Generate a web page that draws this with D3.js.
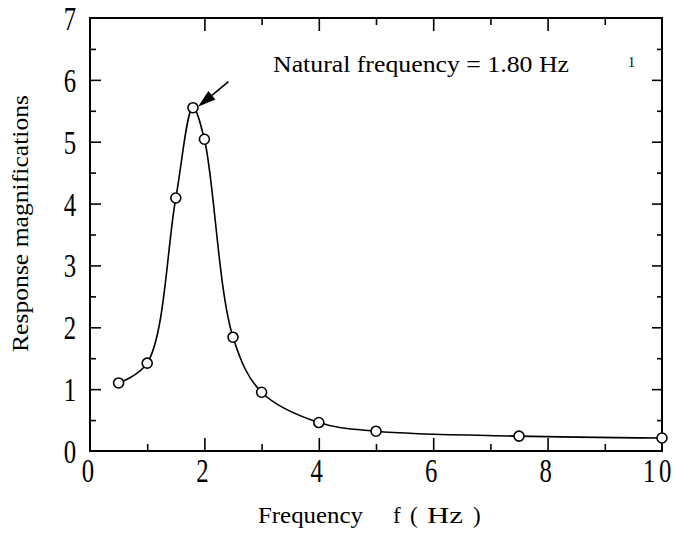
<!DOCTYPE html>
<html>
<head>
<meta charset="utf-8">
<script src="https://cdn.jsdelivr.net/npm/d3@7"></script>
<style>
  body { margin: 0; background: #fff; }
  svg { display: block; }
  text { font-family: "Liberation Serif", "Times New Roman", serif; fill: #000; }
</style>
</head>
<body>
<div id="chart"></div>
<script>
// DATA
const frequency = [0.5, 1.0, 1.5, 1.8, 2.0, 2.5, 3.0, 4.0, 5.0, 7.5, 10.0];
const magnification = [1.1, 1.42, 4.09, 5.55, 5.04, 1.84, 0.95, 0.46, 0.32, 0.24, 0.21];
const xTickLabels = [0, 2, 4, 6, 8, 10];
const yTickLabels = [0, 1, 2, 3, 4, 5, 6, 7];
const naturalFreq = 1.8;
const peakValue = 5.55;
const annotation = "Natural frequency = 1.80 Hz";

const width = 676, height = 533;
const margin = { top: 18, right: 14, bottom: 82, left: 90 };

const svg = d3.select("#chart").append("svg")
  .attr("width", width)
  .attr("height", height);

// SCALES
const x = d3.scaleLinear().domain([0, 10]).range([margin.left, width - margin.right]);
const y = d3.scaleLinear().domain([0, 7]).range([height - margin.bottom, margin.top]);

const x0 = x.range()[0], x1 = x.range()[1];
const y0 = y.range()[0], y1 = y.range()[1];

// AXES - ticks point inward on all four sides
const majorX = [2, 4, 6, 8];
const minorXBottom = [1, 3, 5, 7, 9];
const minorXTop = [3, 5, 7, 9];
const majorY = d3.range(1, 7, 1), minorY = d3.range(0.5, 7, 1);

function addAxis(axis, tx, ty) {
  const g = svg.append("g")
    .attr("transform", `translate(${tx},${ty})`)
    .call(axis);
  g.select(".domain").remove();
  g.selectAll("text").remove();
  g.selectAll("line").attr("stroke", "#000").attr("stroke-width", 1.6);
  return g;
}

addAxis(d3.axisBottom(x).tickValues(majorX).tickSize(-13), 0, y0);
addAxis(d3.axisBottom(x).tickValues(minorXBottom).tickSize(-7), 0, y0);
addAxis(d3.axisTop(x).tickValues(majorX).tickSize(-13), 0, y1);
addAxis(d3.axisTop(x).tickValues(minorXTop).tickSize(-7), 0, y1);
addAxis(d3.axisLeft(y).tickValues(majorY).tickSize(-11), x0, 0);
addAxis(d3.axisLeft(y).tickValues(minorY).tickSize(-6), x0, 0);
addAxis(d3.axisRight(y).tickValues(majorY).tickSize(-10), x1, 0);
addAxis(d3.axisRight(y).tickValues(minorY).tickSize(-5), x1, 0);

// frame
svg.append("rect")
  .attr("x", x0).attr("y", y1)
  .attr("width", x1 - x0).attr("height", y0 - y1)
  .attr("fill", "none")
  .attr("stroke", "#000")
  .attr("stroke-width", 2);

// tick labels (tall, narrow numerals)
svg.append("g").selectAll("text")
  .data(yTickLabels)
  .join("text")
  .attr("transform", (d) => `translate(${x0 - 20},${y(d) + 12}) scale(0.75,1)`)
  .attr("text-anchor", "middle")
  .attr("font-size", 33)
  .text((d) => d);

svg.append("g").selectAll("text")
  .data(xTickLabels)
  .join("text")
  .attr("transform", (d) => `translate(${x(d) - (d === 10 ? 3 : 2)},${y0 + 31}) scale(0.75,1)`)
  .attr("text-anchor", "middle")
  .attr("font-size", 33)
  .attr("letter-spacing", (d) => (d === 10 ? 5 : 0))
  .text((d) => d);

// axis titles
const xTitle = svg.append("g").attr("font-size", 23);
xTitle.append("text").attr("x", 258).attr("y", 523)
  .attr("textLength", 105).attr("lengthAdjust", "spacingAndGlyphs").text("Frequency");
xTitle.append("text").attr("x", 393).attr("y", 523).text("f");
xTitle.append("text").attr("x", 410).attr("y", 523).text("(");
xTitle.append("text").attr("x", 427).attr("y", 523)
  .attr("textLength", 36).attr("lengthAdjust", "spacingAndGlyphs").text("Hz");
xTitle.append("text").attr("x", 473).attr("y", 523).text(")");

svg.append("text")
  .attr("transform", `translate(28,352) rotate(-90)`)
  .attr("font-size", 23)
  .attr("textLength", 257)
  .attr("lengthAdjust", "spacingAndGlyphs")
  .text("Response magnifications");

// CURVE
const points = frequency.map((f, i) => [f, magnification[i]]);
const line = d3.line()
  .x((d) => x(d[0]))
  .y((d) => y(d[1]))
  .curve(d3.curveCatmullRom.alpha(0.5));

svg.append("path")
  .datum(points)
  .attr("d", line)
  .attr("fill", "none")
  .attr("stroke", "#000")
  .attr("stroke-width", 1.6);

svg.append("g").selectAll("circle")
  .data(points)
  .join("circle")
  .attr("cx", (d) => x(d[0]))
  .attr("cy", (d) => y(d[1]))
  .attr("r", 5)
  .attr("fill", "#fff")
  .attr("stroke", "#000")
  .attr("stroke-width", 1.6);

// ARROW pointing at the natural frequency peak
const tip = [x(naturalFreq) + 5, y(peakValue) - 1];
const tail = [x(2.42), y(5.97)];
const ang = Math.atan2(tail[1] - tip[1], tail[0] - tip[0]);
const headLen = 18, headW = 5.5;
const base = [tip[0] + headLen * Math.cos(ang), tip[1] + headLen * Math.sin(ang)];
svg.append("line")
  .attr("x1", base[0]).attr("y1", base[1])
  .attr("x2", tail[0]).attr("y2", tail[1])
  .attr("stroke", "#000")
  .attr("stroke-width", 1.6);
svg.append("path")
  .attr("d", d3.line()([
    tip,
    [base[0] - headW * Math.sin(ang), base[1] + headW * Math.cos(ang)],
    [base[0] + headW * Math.sin(ang), base[1] - headW * Math.cos(ang)],
  ]) + "Z")
  .attr("fill", "#000");

// annotation
svg.append("text")
  .attr("x", 273)
  .attr("y", 72)
  .attr("font-size", 23.5)
  .attr("textLength", 296)
  .attr("lengthAdjust", "spacingAndGlyphs")
  .text(annotation);

svg.append("text")
  .attr("x", 628)
  .attr("y", 67)
  .attr("font-size", 14)
  .text("1");
</script>
</body>
</html>
